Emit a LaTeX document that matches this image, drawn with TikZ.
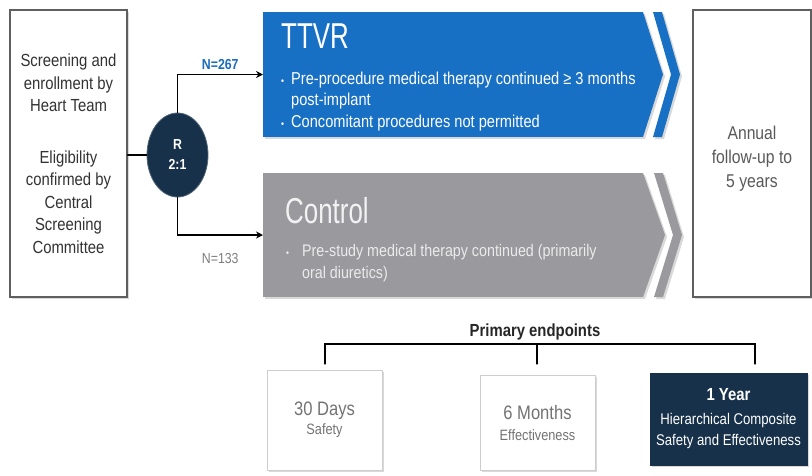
\documentclass[tikz,border=0pt]{standalone}
\usepackage{fontspec}
\setmainfont{Liberation Sans}[FakeStretch=0.85]
\newfontfamily\armfont{Liberation Sans}[FakeStretch=0.72]
\usetikzlibrary{arrows.meta,shapes.geometric,shadows}
\definecolor{ttvrblue}{RGB}{24,112,196}
\definecolor{ctrlgray}{RGB}{153,153,158}
\definecolor{navy}{RGB}{23,49,74}
\definecolor{boxline}{RGB}{95,95,95}
\definecolor{lightline}{RGB}{205,205,205}
\definecolor{nblue}{RGB}{28,108,188}
\definecolor{ngray}{RGB}{125,125,125}

\begin{document}
\begin{tikzpicture}[x=1pt,y=-1pt,>={Stealth[length=7pt,width=7pt]},line cap=round,
  softshadow/.style={drop shadow={opacity=0.3,shadow xshift=2pt,shadow yshift=-2pt}},
  sidebox/.style={draw=boxline,line width=1.2pt,fill=white,softshadow,inner sep=0pt,
    minimum width=117pt,minimum height=287pt,align=center},
  armbody/.style={inner sep=0pt,outer sep=0pt,minimum width=380pt,softshadow},
  armtitle/.style={font=\armfont\fontsize{36}{36}\selectfont,text=white,inner sep=0pt,anchor=base west},
  armtext/.style={font=\fontsize{17.2}{21.5}\selectfont,inner sep=0pt,anchor=base west},
  endbox/.style={draw=lightline,line width=1pt,fill=white,softshadow,inner sep=0pt,align=center,text=black!55},
  link/.style={line width=1.3pt}]
\useasboundingbox (0,0) rectangle (812,475);

% screening and follow-up
\node[sidebox,text=black!80,font=\fontsize{17.5}{22.5}\selectfont] (screen) at (68.5,153.5)
  {Screening and\\enrollment by\\Heart Team\\[29pt]Eligibility\\confirmed by\\Central\\Screening\\Committee};
\node[sidebox,minimum width=118pt] (follow) at (752,153.5) {};
\node[text=black!65,align=center,font=\fontsize{18.5}{24}\selectfont] (follow-text) at (752,159)
  {Annual\\follow-up to\\5 years};

% randomisation
\node[ellipse,fill=navy,draw=navy!75!white,line width=0.8pt,minimum width=61pt,minimum height=84pt,
  inner sep=0pt,text=white,align=center,font=\bfseries\fontsize{14.5}{20}\selectfont] (rand) at (177.5,155) {R\\2:1};

% TTVR arm
\node[armbody,fill=ttvrblue,minimum height=125pt] (ttvr) at (453,74.5) {};
\fill[ttvrblue,softshadow] (643,12) -- (663,74.5) -- (643,137) -- cycle;
\fill[ttvrblue,softshadow] (653,12) -- (662,12) -- (680,74.5) -- (662,137) -- (653,137) -- (671,74.5) -- cycle;
\node[armtitle] (ttvr-title) at (281,48) {TTVR};
\node[armtext,text=white] (ttvr-list) at (281,84) {\begin{tabular}[t]{@{}l@{\hspace{7pt}}l@{}}
  {\fontsize{10}{10}\selectfont\textbullet} & Pre-procedure medical therapy continued ≥ 3 months\\
  & post-implant\\
  {\fontsize{10}{10}\selectfont\textbullet} & Concomitant procedures not permitted
  \end{tabular}};

% control arm
\node[armbody,fill=ctrlgray,minimum height=124pt] (ctrl) at (453,235) {};
\fill[ctrlgray,softshadow] (643,173) -- (665,235) -- (643,297) -- cycle;
\fill[ctrlgray,softshadow] (654,173) -- (663,173) -- (682,235) -- (663,297) -- (654,297) -- (673,235) -- cycle;
\node[armtitle,text=white!95!black] (ctrl-title) at (285,223) {Control};
\node[armtext,text=white!92!black,font=\fontsize{16.8}{22}\selectfont] (ctrl-list) at (286,256) {\begin{tabular}[t]{@{}l@{\hspace{13pt}}l@{}}
  {\fontsize{10}{10}\selectfont\textbullet} & Pre-study medical therapy continued (primarily\\
  & oral diuretics)
  \end{tabular}};

% connectors
\draw[link] (rand.west -| screen.east) -- (rand.west);
\draw[link,->] (rand.north) |- node[pos=0.75,above=1pt,text=nblue,font=\bfseries\fontsize{14.5}{14.5}\selectfont] (n267) {N=267} (ttvr.west);
\draw[link,->] (rand.south) |- node[pos=0.75,below=14pt,text=ngray,font=\fontsize{14.5}{14.5}\selectfont] (n133) {N=133} (ctrl.west);

% primary endpoints
\node[font=\bfseries\fontsize{17.5}{17.5}\selectfont,text=black!85] (prim) at (535,332) {Primary endpoints};
\coordinate (tick30) at (325,364);
\coordinate (tick6) at (537,364);
\coordinate (tick1) at (755,364);
\coordinate (brace6) at (537,344);
\draw[link] (tick30) |- (tick1 |- brace6) -- (tick1);
\draw[link] (brace6) -- (tick6);

\node[endbox,minimum width=115pt,minimum height=100pt,font=\fontsize{15}{19}\selectfont] (d30) at (324.5,420)
  {{\fontsize{19.5}{19.5}\selectfont 30 Days}\\Safety};
\node[endbox,minimum width=115pt,minimum height=95pt,font=\fontsize{15}{21}\selectfont] (m6) at (537.5,422.5)
  {{\fontsize{19.5}{19.5}\selectfont 6 Months}\\Effectiveness};
\node[endbox,draw=navy,fill=navy,text=white,minimum width=157pt,minimum height=92pt,font=\fontsize{15.5}{21}\selectfont] (y1) at (728.5,419)
  {{\bfseries\fontsize{17.5}{17.5}\selectfont 1 Year}\\[3pt]Hierarchical Composite\\Safety and Effectiveness};
\end{tikzpicture}
\end{document}
